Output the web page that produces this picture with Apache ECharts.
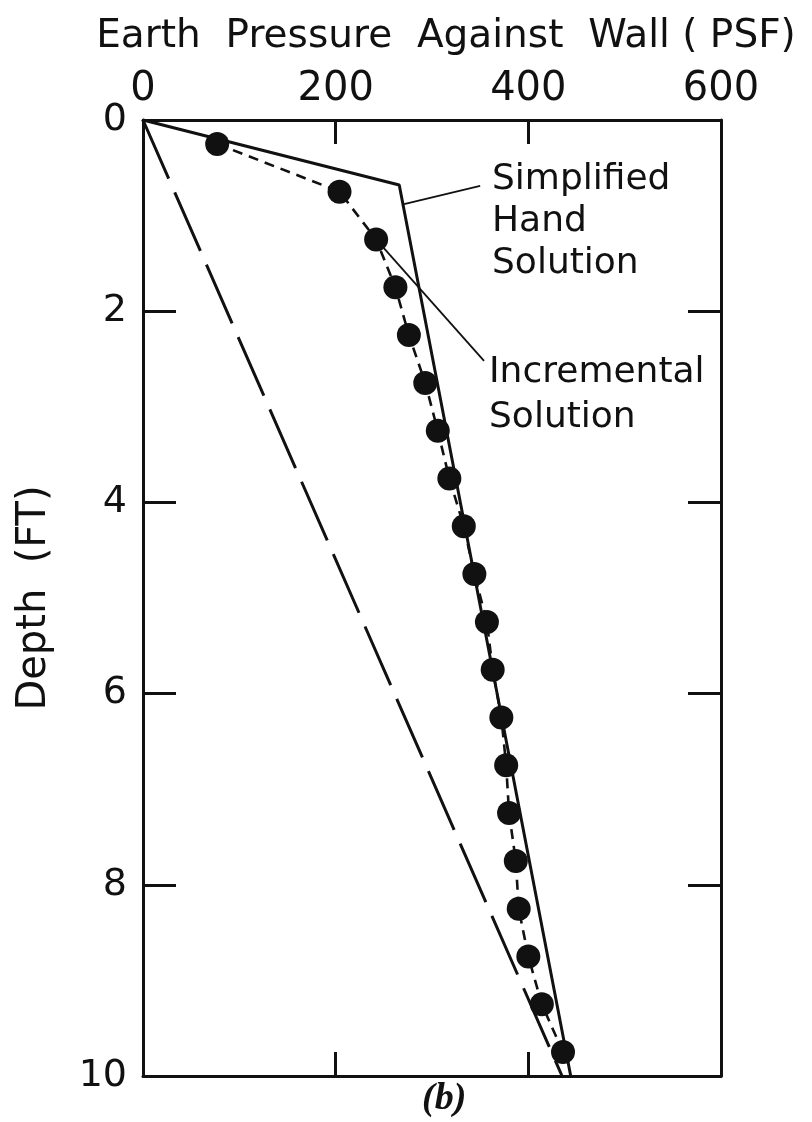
<!DOCTYPE html>
<html>
<head>
<meta charset="utf-8">
<script src="https://cdn.jsdelivr.net/npm/echarts@6/dist/echarts.min.js"></script>
<style>
html,body{margin:0;padding:0;background:#fff;}
#chart{width:812px;height:1122px;}
</style>
</head>
<body>
<div id="chart"></div>
<script>
// ---- data ----
const xTicks = [0, 200, 400, 600];
const yTicks = [0, 2, 4, 6, 8, 10];
const incrementalDepth = [0.25, 0.75, 1.25, 1.75, 2.25, 2.75, 3.25, 3.75, 4.25, 4.75,
                          5.25, 5.75, 6.25, 6.75, 7.25, 7.75, 8.25, 8.75, 9.25, 9.75];
const incrementalPsf = [77, 204, 242, 262, 276, 293, 306, 318, 333, 344,
                        357, 363, 372, 377, 380, 387, 390, 400, 414, 436];
const simplifiedDepth = [0, 0.68, 10];
const simplifiedPsf = [0, 266, 444];
const dashedDepth = [0, 10];
const dashedPsf = [0, 435];
const titleText = 'Earth  Pressure  Against  Wall ( PSF)';
const yName = 'Depth  (FT)';
const simplifiedLabel = 'Simplified\nHand\nSolution';
const incrementalLabel = 'Incremental\nSolution';
const panelLabel = '(b)';
// annotation arrows [from, to] as [psf, depth]
const simplifiedArrow = [[350, 0.69], [271, 0.88]];
const incrementalArrow = [[354, 2.52], [250, 1.34]];

const pairs = (xs, ys) => xs.map((x, i) => [x, ys[i]]);
const INK = '#111';
const FONT = 'DejaVu Sans';

const chart = echarts.init(document.getElementById('chart'), null, {renderer: 'canvas'});

const axisLineStyle = () => ({show: true, onZero: false, lineStyle: {color: INK, width: 3}});
const baseX = () => ({
  type: 'value', min: xTicks[0], max: xTicks[xTicks.length - 1], interval: 200,
  splitLine: {show: false},
  axisLine: axisLineStyle(),
  axisTick: {show: true, inside: true, length: 24, lineStyle: {color: INK, width: 3}}
});
const baseY = () => ({
  type: 'value', inverse: true, min: yTicks[0], max: yTicks[yTicks.length - 1], interval: 2,
  splitLine: {show: false},
  axisLine: axisLineStyle(),
  axisTick: {show: true, inside: true, length: 33, lineStyle: {color: INK, width: 3}}
});

const arrowMark = (a) => ({
  silent: true,
  symbol: ['none', 'arrow'],
  symbolSize: [0, 11],
  label: {show: false},
  lineStyle: {color: INK, width: 1.8, type: 'solid'},
  emphasis: {disabled: true},
  data: [[{coord: a[0]}, {coord: a[1]}]]
});

chart.setOption({
  animation: false,
  backgroundColor: '#fff',
  grid: {left: 143, right: 91, top: 120, bottom: 46, containLabel: false},
  xAxis: [
    Object.assign(baseX(), {
      position: 'top',
      name: titleText, nameLocation: 'middle', nameGap: 64,
      nameTextStyle: {fontFamily: FONT, fontSize: 39, color: INK, padding: [0, 0, 0, 28]},
      axisLabel: {show: true, fontFamily: FONT, fontSize: 40, color: INK, margin: 10}
    }),
    Object.assign(baseX(), {
      position: 'bottom',
      axisLabel: {show: false}
    })
  ],
  yAxis: [
    Object.assign(baseY(), {
      position: 'left',
      name: yName, nameLocation: 'middle', nameGap: 88, nameRotate: 90,
      nameTextStyle: {fontFamily: FONT, fontSize: 40, color: INK},
      axisLabel: {show: true, fontFamily: FONT, fontSize: 38, color: INK, margin: 16}
    }),
    Object.assign(baseY(), {
      position: 'right',
      axisLabel: {show: false}
    })
  ],
  series: [
    {
      name: 'Simplified Hand Solution', type: 'line', xAxisIndex: 0, yAxisIndex: 0,
      data: pairs(simplifiedPsf, simplifiedDepth),
      symbol: 'none', lineStyle: {color: INK, width: 3}, silent: true,
      markLine: arrowMark(simplifiedArrow)
    },
    {
      name: 'Dashed', type: 'line', xAxisIndex: 0, yAxisIndex: 0,
      data: pairs(dashedPsf, dashedDepth),
      symbol: 'none', lineStyle: {color: INK, width: 3, type: [64, 15]}, silent: true
    },
    {
      name: 'Incremental Solution', type: 'line', xAxisIndex: 0, yAxisIndex: 0,
      data: pairs(incrementalPsf, incrementalDepth),
      symbol: 'circle', symbolSize: 24, showAllSymbol: true,
      itemStyle: {color: INK, borderWidth: 0},
      lineStyle: {color: INK, width: 2.6, type: [10, 7]}, silent: true,
      markLine: arrowMark(incrementalArrow)
    }
  ],
  graphic: [
    {type: 'text', left: 492, top: 159,
     style: {text: simplifiedLabel, fontFamily: FONT, fontSize: 36, lineHeight: 42, fill: INK}},
    {type: 'text', left: 489, top: 350,
     style: {text: incrementalLabel, fontFamily: FONT, fontSize: 36, lineHeight: 45, fill: INK}},
    {type: 'text', left: 422, top: 1080,
     style: {text: panelLabel, fontFamily: 'Liberation Serif', fontStyle: 'italic', fontWeight: 'bold', fontSize: 38, fill: INK}}
  ]
});
</script>
</body>
</html>
